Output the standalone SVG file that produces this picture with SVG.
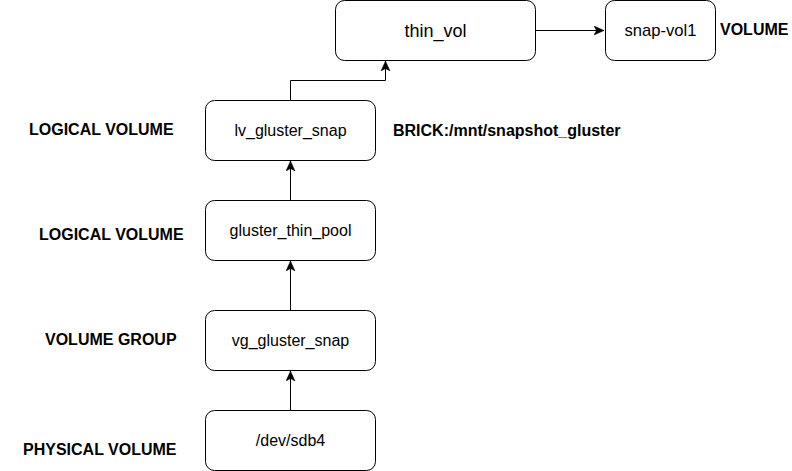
<svg xmlns="http://www.w3.org/2000/svg" width="792" height="471" viewBox="0 0 792 471">
<style>
.box{fill:#fff;stroke:#000;stroke-width:1}
.t{font-family:"Liberation Sans",Arial,sans-serif;font-size:16px;fill:#000;text-anchor:middle}
.b{font-family:"Liberation Sans",Arial,sans-serif;font-size:16px;font-weight:bold;fill:#000}
.c{fill:none;stroke:#000;stroke-width:1}
</style>
<defs>
<marker id="arr" markerUnits="userSpaceOnUse" markerWidth="12" markerHeight="10" refX="10" refY="4.5" orient="auto" viewBox="0 0 12 10">
<path d="M0,0 L10,4.5 L0,9 L2.5,4.5 Z" fill="#000" stroke="#000" stroke-width="0.5"/>
</marker>
</defs>
<rect width="792" height="471" fill="#fff"/>
<g id="connectors">
<path class="c" d="M290.5,100 V80.5 H385.5 V61" marker-end="url(#arr)"/>
<path class="c" d="M535,30.5 H604" marker-end="url(#arr)"/>
<path class="c" d="M290.5,200 V161" marker-end="url(#arr)"/>
<path class="c" d="M290.5,310 V261" marker-end="url(#arr)"/>
<path class="c" d="M290.5,410 V371" marker-end="url(#arr)"/>
</g>
<g id="thin_vol">
<rect class="box" x="335.5" y="0.5" width="200" height="60" rx="9"/>
<text class="t" x="435.5" y="36.5" style="font-size:18px">thin_vol</text>
</g>
<g id="snap-vol1">
<rect class="box" x="605.5" y="0.5" width="110" height="60" rx="9"/>
<text class="t" x="660.5" y="36" style="font-size:16.6px">snap-vol1</text>
</g>
<g id="lv_gluster_snap">
<rect class="box" x="205.5" y="100.5" width="170" height="60" rx="9"/>
<text class="t" x="290.5" y="135.5">lv_gluster_snap</text>
</g>
<g id="gluster_thin_pool">
<rect class="box" x="205.5" y="200.5" width="170" height="60" rx="9"/>
<text class="t" x="290.5" y="236">gluster_thin_pool</text>
</g>
<g id="vg_gluster_snap">
<rect class="box" x="205.5" y="310.5" width="170" height="60" rx="9"/>
<text class="t" x="290.5" y="345.5">vg_gluster_snap</text>
</g>
<g id="dev_sdb4">
<rect class="box" x="205.5" y="410.5" width="170" height="60" rx="9"/>
<text class="t" x="290.5" y="445.5">/dev/sdb4</text>
</g>
<g id="labels">
<text class="b" x="720" y="35">VOLUME</text>
<text class="b" x="393" y="136">BRICK:/mnt/snapshot_gluster</text>
<text class="b" x="29" y="135">LOGICAL VOLUME</text>
<text class="b" x="39" y="240">LOGICAL VOLUME</text>
<text class="b" x="45" y="345">VOLUME GROUP</text>
<text class="b" x="23" y="455">PHYSICAL VOLUME</text>
</g>
</svg>
